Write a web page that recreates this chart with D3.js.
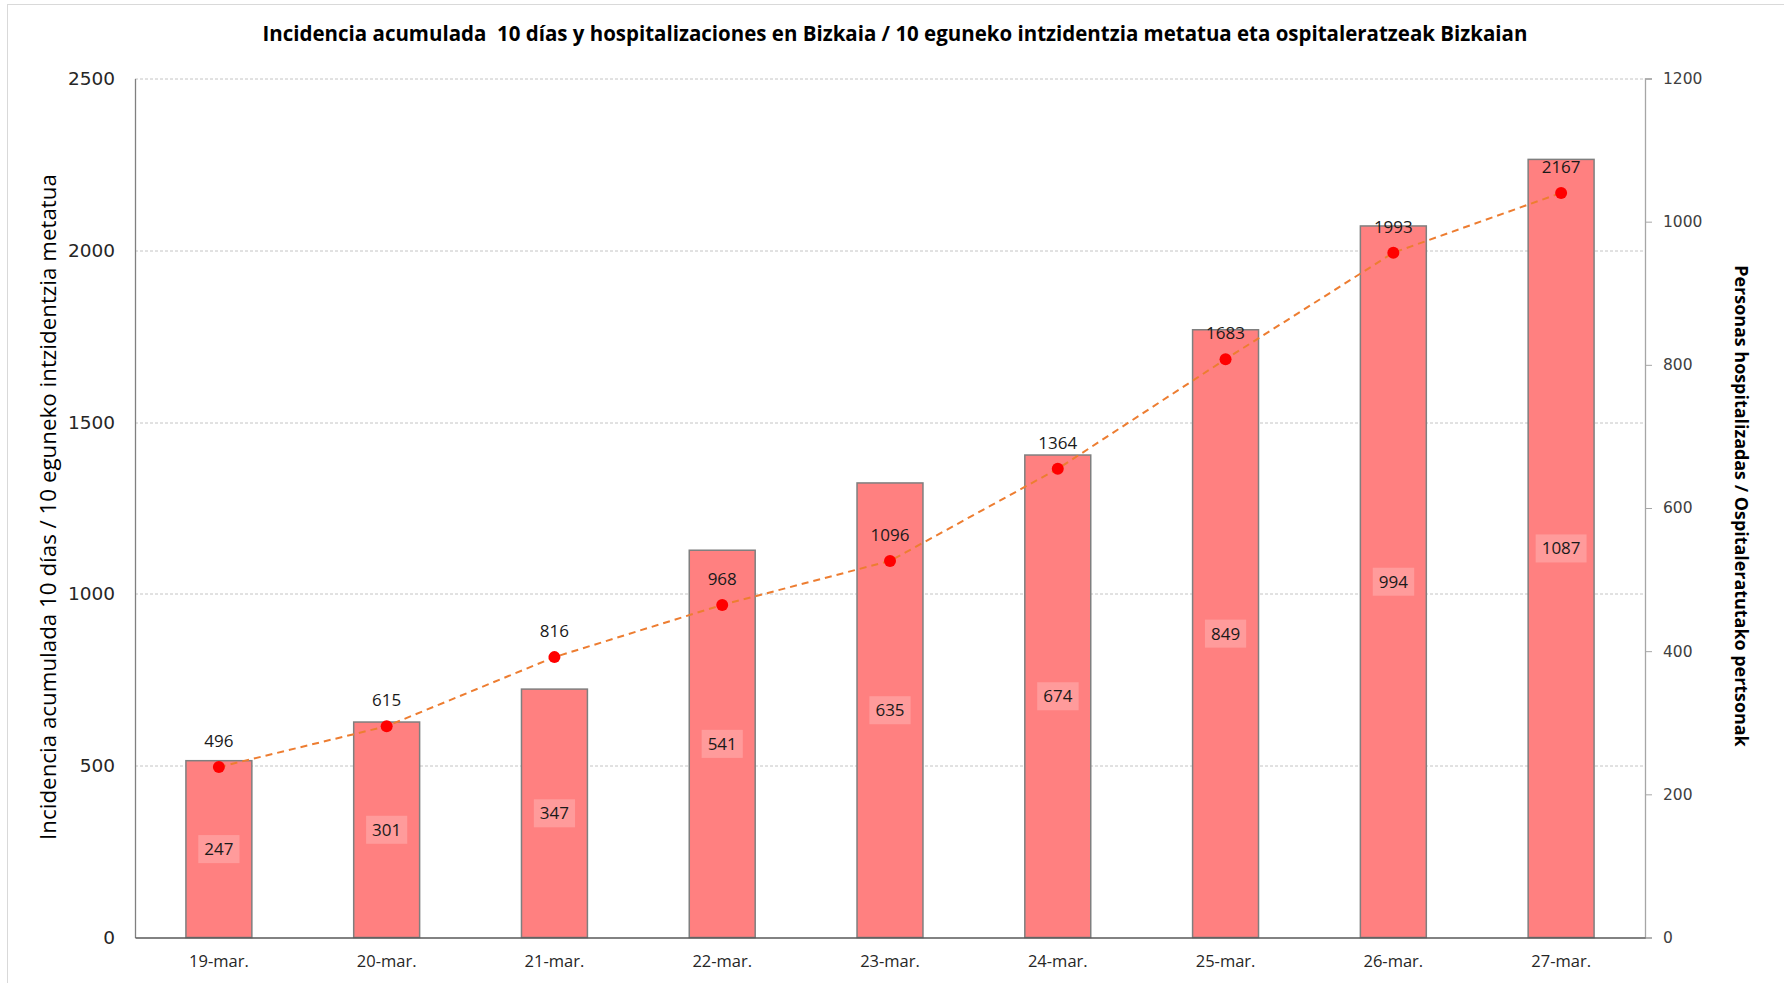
<!DOCTYPE html>
<html>
<head>
<meta charset="utf-8">
<script src="https://cdn.jsdelivr.net/npm/d3@7"></script>
<style>
  html, body { margin: 0; padding: 0; background: #fff; }
  svg { display: block; }
</style>
</head>
<body>
<div id="chart"></div>
<script>
// data
const dates = ["19-mar.", "20-mar.", "21-mar.", "22-mar.", "23-mar.", "24-mar.", "25-mar.", "26-mar.", "27-mar."];
const hospitalized = [247, 301, 347, 541, 635, 674, 849, 994, 1087];
const incidence = [496, 615, 816, 968, 1096, 1364, 1683, 1993, 2167];
const leftTicks = [0, 500, 1000, 1500, 2000, 2500];
const rightTicks = [0, 200, 400, 600, 800, 1000, 1200];

const titleText = "Incidencia acumulada  10 días y hospitalizaciones en Bizkaia / 10 eguneko intzidentzia metatua eta ospitaleratzeak Bizkaian";
const leftTitle = "Incidencia acumulada 10 días / 10 eguneko intzidentzia metatua";
const rightTitle = "Personas hospitalizadas / Ospitaleratutako pertsonak";

function draw() {
  const dimensions = {
    width: 1784,
    height: 983,
    margin: { left: 135, right: 139, top: 78.5, bottom: 45.5 },
  };
  dimensions.ctrWidth = dimensions.width - dimensions.margin.left - dimensions.margin.right;
  dimensions.ctrHeight = dimensions.height - dimensions.margin.top - dimensions.margin.bottom;

  const font = "'Open Sans', 'Liberation Sans', sans-serif";
  const tickFont = "'DejaVu Sans', Verdana, sans-serif";

  const svg = d3.select("#chart")
    .append("svg")
    .attr("width", dimensions.width)
    .attr("height", dimensions.height);

  // outer frame (runs off the right edge like the original)
  svg.append("rect")
    .attr("x", 7.5).attr("y", 4.5)
    .attr("width", dimensions.width + 10)
    .attr("height", dimensions.height - 2)
    .attr("fill", "none")
    .attr("stroke", "#d9d9d9");

  const ctr = svg.append("g")
    .attr("transform", `translate(${dimensions.margin.left},${dimensions.margin.top})`);

  // scales
  const xScale = d3.scaleBand()
    .domain(dates)
    .range([0, dimensions.ctrWidth])
    .padding(0);

  const yLeft = d3.scaleLinear()
    .domain([0, 2500])
    .range([dimensions.ctrHeight, 0]);

  const yRight = d3.scaleLinear()
    .domain([0, 1200])
    .range([dimensions.ctrHeight, 0]);

  const barWidth = xScale.bandwidth() * 0.393;
  const xCenter = (d) => xScale(d) + xScale.bandwidth() / 2;

  // gridlines
  ctr.append("g")
    .selectAll("line")
    .data(leftTicks.filter((t) => t > 0))
    .join("line")
    .attr("x1", 0)
    .attr("x2", dimensions.ctrWidth)
    .attr("y1", (d) => Math.round(yLeft(d)) + 0.5)
    .attr("y2", (d) => Math.round(yLeft(d)) + 0.5)
    .attr("stroke", "#c4c4c4")
    .attr("stroke-dasharray", "3,2");

  // bars (right axis)
  ctr.append("g")
    .selectAll("rect")
    .data(hospitalized)
    .join("rect")
    .attr("x", (d, i) => xCenter(dates[i]) - barWidth / 2)
    .attr("y", (d) => yRight(d))
    .attr("width", barWidth)
    .attr("height", (d) => dimensions.ctrHeight - yRight(d))
    .attr("fill", "#ff8080")
    .attr("stroke", "#7f7f7f")
    .attr("stroke-width", 1.5);

  // axes
  const axes = ctr.append("g");
  const leftAxis = axes.append("g")
    .call(d3.axisLeft(yLeft).tickValues(leftTicks).tickFormat(d3.format("d")).tickSize(0).tickPadding(20));
  leftAxis.select(".domain").attr("stroke", "#808080").attr("stroke-width", 1.3);
  leftAxis.selectAll("text")
    .attr("font-family", tickFont)
    .attr("font-size", 18.5)
    .attr("fill", "#262626");

  const rightAxis = axes.append("g")
    .attr("transform", `translate(${dimensions.ctrWidth},0)`)
    .call(d3.axisRight(yRight).tickValues(rightTicks).tickFormat(d3.format("d")).tickSize(7).tickPadding(11));
  rightAxis.select(".domain").attr("stroke", "#a6a6a6").attr("stroke-width", 1.3);
  rightAxis.selectAll(".tick line").attr("stroke", "#a6a6a6");
  rightAxis.selectAll("text")
    .attr("font-family", tickFont)
    .attr("font-size", 15.5)
    .attr("fill", "#404040");

  const bottomAxis = axes.append("g")
    .attr("transform", `translate(0,${dimensions.ctrHeight})`)
    .call(d3.axisBottom(xScale).tickSize(0).tickPadding(18));
  bottomAxis.select(".domain").attr("stroke", "#595959").attr("stroke-width", 1.5);
  bottomAxis.selectAll("text")
    .attr("font-family", font)
    .attr("font-size", 16.5)
    .attr("fill", "#262626");

  // bar value labels with light boxes
  const barLabels = ctr.append("g")
    .selectAll("g")
    .data(hospitalized)
    .join("g")
    .attr("transform", (d, i) =>
      `translate(${xCenter(dates[i])},${(yRight(d) + dimensions.ctrHeight) / 2})`);

  barLabels.append("text")
    .text((d) => d)
    .attr("text-anchor", "middle")
    .attr("dy", "0.35em")
    .attr("font-family", font)
    .attr("font-size", 17)
    .attr("fill", "#1a1a1a");

  barLabels.each(function () {
    const g = d3.select(this);
    const bb = g.select("text").node().getBBox();
    g.insert("rect", "text")
      .attr("x", bb.x - 6)
      .attr("y", -14)
      .attr("width", bb.width + 12)
      .attr("height", 28)
      .attr("fill", "#ff9b9b");
  });

  // incidence line (left axis)
  const line = d3.line()
    .x((d, i) => xCenter(dates[i]))
    .y((d) => yLeft(d));

  ctr.append("path")
    .datum(incidence)
    .attr("d", line)
    .attr("fill", "none")
    .attr("stroke", "#ed7d31")
    .attr("stroke-width", 2)
    .attr("stroke-dasharray", "7,5");

  ctr.append("g")
    .selectAll("circle")
    .data(incidence)
    .join("circle")
    .attr("cx", (d, i) => xCenter(dates[i]))
    .attr("cy", (d) => yLeft(d))
    .attr("r", 6)
    .attr("fill", "#ff0000");

  ctr.append("g")
    .selectAll("text")
    .data(incidence)
    .join("text")
    .text((d) => d)
    .attr("x", (d, i) => xCenter(dates[i]))
    .attr("y", (d) => yLeft(d) - 26)
    .attr("dy", "0.35em")
    .attr("text-anchor", "middle")
    .attr("font-family", font)
    .attr("font-size", 17)
    .attr("fill", "#1a1a1a");

  // titles, sized to the width they have in the original
  const fitText = (sel, targetWidth) => {
    const w = sel.node().getComputedTextLength();
    const size = parseFloat(sel.attr("font-size"));
    sel.attr("font-size", (size * targetWidth) / w);
  };

  const title = svg.append("text")
    .text(titleText)
    .attr("x", 895)
    .attr("y", 34)
    .attr("dy", "0.35em")
    .attr("text-anchor", "middle")
    .attr("font-family", font)
    .attr("font-weight", "bold")
    .attr("font-size", 20)
    .attr("fill", "#000")
    .style("white-space", "pre");
  fitText(title, 1266);

  const lt = svg.append("text")
    .text(leftTitle)
    .attr("transform", "translate(48,507) rotate(-90)")
    .attr("dy", "0.35em")
    .attr("text-anchor", "middle")
    .attr("font-family", font)
    .attr("font-size", 20)
    .attr("fill", "#000");
  fitText(lt, 666);

  const rt = svg.append("text")
    .text(rightTitle)
    .attr("transform", "translate(1741,506) rotate(90)")
    .attr("dy", "0.35em")
    .attr("text-anchor", "middle")
    .attr("font-family", font)
    .attr("font-weight", "bold")
    .attr("font-size", 18)
    .attr("fill", "#000");
  fitText(rt, 482);
}

draw();
</script>
</body>
</html>
